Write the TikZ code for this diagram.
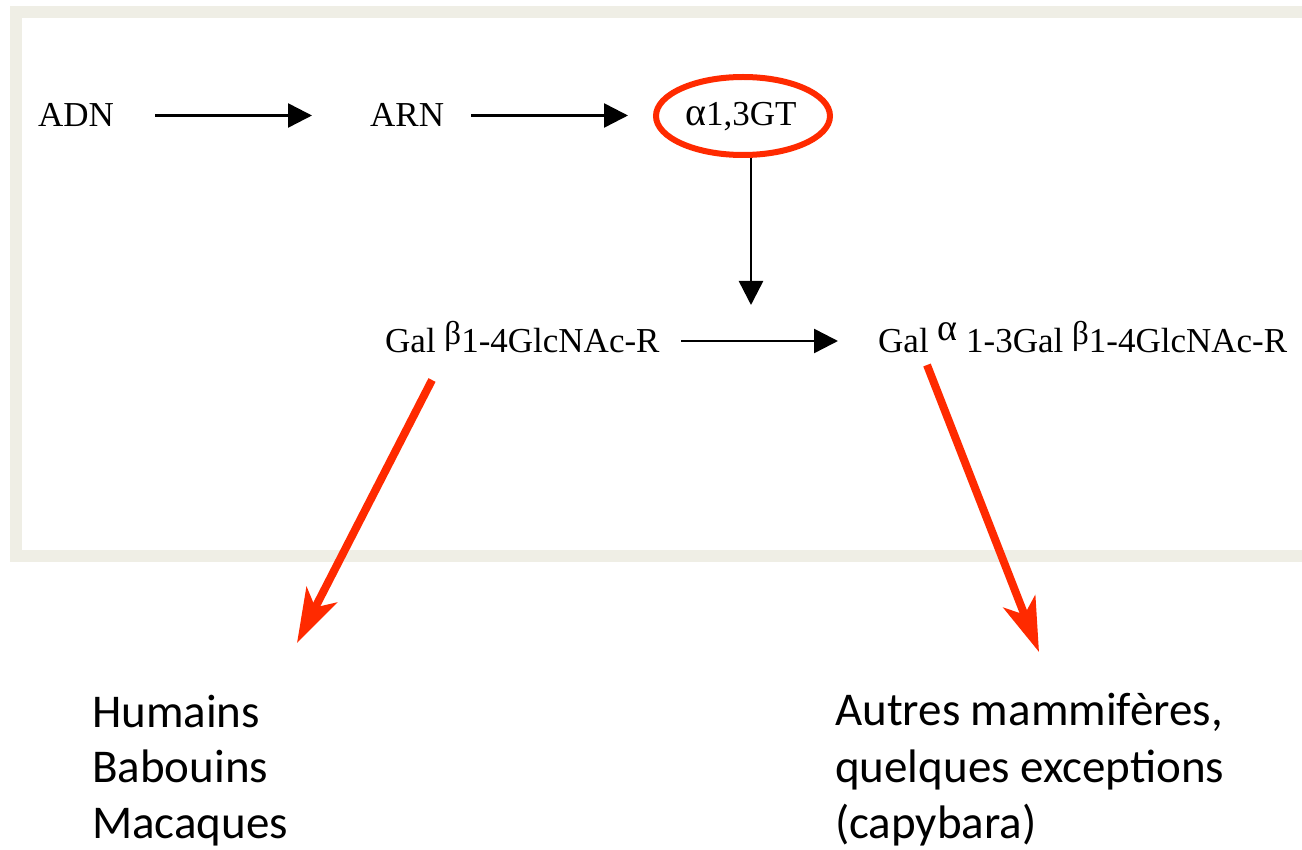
\documentclass[tikz,border=0pt]{standalone}
\usepackage{fontspec}
\setmainfont{Liberation Serif}
\newfontfamily\calfont{Carlito}
\usetikzlibrary{arrows.meta}
\definecolor{framec}{HTML}{EFEEE5}
\definecolor{redc}{HTML}{FF2A00}
\newcommand{\supb}{\raisebox{8pt}{\fontsize{33}{33}\selectfont β}}
\newcommand{\supa}{\raisebox{12pt}{\fontsize{38}{38}\selectfont α}}
\begin{document}
\begin{tikzpicture}[x=1pt,y=-1pt,
  lbl/.style={anchor=base west, inner sep=0pt, font=\fontsize{35}{40}\selectfont},
  big/.style={anchor=base west, inner sep=0pt, font=\calfont\fontsize{47}{56}\selectfont},
  blk/.style={line width=2.5pt, -{Triangle[length=24pt,width=24pt]}},
  redarr/.style={draw=redc, line width=8pt, -{Stealth[length=54pt,width=34pt,inset=14pt]}},
  framebox/.style={draw=framec, line width=12pt}]
\useasboundingbox (0,0) rectangle (1302,850);
\clip (0,0) rectangle (1302,850);
\draw[framebox] (16,12) rectangle (1320,556);

% top row
\node[lbl] (adn) at (38,127) {ADN};
\node[lbl] (arn) at (370,127) {ARN};
\node[lbl] (gt) at (685,126) {{\fontsize{40}{40}\selectfont α}1,3GT};
\draw[draw=redc, line width=6pt] (743,116) ellipse [x radius=87, y radius=39];

\coordinate (a1s) at (155,115.5);
\coordinate (a1e) at (312,115.5);
\coordinate (a2s) at (471,115.5);
\coordinate (a2e) at (628,115.5);
\draw[blk] (a1s) -- (a1e);
\draw[blk] (a2s) -- (a2e);

\coordinate (vs) at (751,158);
\coordinate (ve) at (751,305);
\draw[blk] (vs) -- (ve);

% middle row
\node[lbl] (sub) at (385,353) {Gal \supb1-4GlcNAc-R};
\node[lbl] (prod) at (878,353) {Gal \supa{} 1-3Gal \supb1-4GlcNAc-R};
\coordinate (ms) at (681,341);
\coordinate (me) at (838,341);
\draw[blk] (ms) -- (me);

% red arrows
\coordinate (r1s) at (432,380);
\coordinate (r1e) at (297,643);
\coordinate (r2s) at (927,365);
\coordinate (r2e) at (1039,652);
\draw[redarr] (r1s) -- (r1e);
\draw[redarr] (r2s) -- (r2e);

% bottom labels
\node[big] (h1) at (92,727) {Humains};
\node[big] (h2) at (92,782) {Babouins};
\node[big] (h3) at (92,838) {Macaques};
\node[big] (m1) at (835,725) {Autres mammifères,};
\node[big] (m2) at (835,782) {quelques exceptions};
\node[big] (m3) at (835,838) {(capybara)};
\end{tikzpicture}
\end{document}
